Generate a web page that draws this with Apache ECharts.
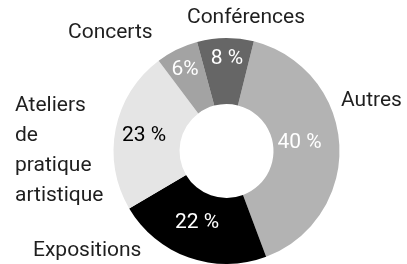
<!DOCTYPE html>
<html>
<head>
<meta charset="utf-8">
<script src="https://cdn.jsdelivr.net/npm/echarts@6/dist/echarts.min.js"></script>
<style>
html,body{margin:0;padding:0;background:#fff;}
#c{width:407px;height:264px;}
</style>
</head>
<body>
<div id="c"></div>
<script>
const categories = ['Autres', 'Expositions', 'Ateliers\nde\npratique\nartistique', 'Concerts', 'Conférences'];
const values = [40, 22, 23, 6, 8];
const percentLabels = ['40 %', '22 %', '23 %', '6%', '8 %'];

const sliceColors = ['#b3b3b3', '#000000', '#e5e5e5', '#a3a3a3', '#666666'];
const innerTextColors = ['#ffffff', '#ffffff', '#000000', '#ffffff', '#ffffff'];
// label layout (pixel positions)
const innerPos = [[299.5, 143], [197, 223], [144, 135.5], [185, 70], [227, 58.5]];
const outerPos = [[341, 100.5, 'left'], [33, 250.5, 'left'], [15, 150.5, 'left'], [68, 33, 'left'], [246, 18, 'center']];

const chart = echarts.init(document.getElementById('c'), null, {renderer: 'canvas'});
const FONT = 'Roboto';
const center = [226.5, 151];
const radius = [47, 113];

const innerData = values.map((v, i) => ({
  value: v, name: categories[i],
  itemStyle: {color: sliceColors[i]},
  label: {formatter: percentLabels[i], color: innerTextColors[i]}
}));
const outerData = values.map((v, i) => ({value: v, name: categories[i]}));

chart.setOption({
  animation: false,
  series: [
    {
      type: 'pie', center: center, radius: radius, startAngle: 76, clockwise: true,
      silent: true,
      itemStyle: {borderWidth: 0},
      label: {show: true, position: 'inside', fontFamily: FONT, fontSize: 21},
      labelLine: {show: false},
      labelLayout: function (p) {
        const q = innerPos[p.dataIndex];
        return {x: q[0], y: q[1], align: 'center', verticalAlign: 'middle'};
      },
      data: innerData
    },
    {
      type: 'pie', center: center, radius: radius, startAngle: 76, clockwise: true,
      silent: true,
      itemStyle: {color: 'rgba(0,0,0,0)', borderWidth: 0},
      label: {show: true, position: 'outside', fontFamily: FONT, fontSize: 21, color: '#1f1f1f', lineHeight: 30, formatter: '{b}', overflow: 'none', width: 200},
      labelLine: {show: false},
      labelLayout: function (p) {
        const q = outerPos[p.dataIndex];
        return {x: q[0], y: q[1], align: q[2], verticalAlign: 'middle'};
      },
      data: outerData
    }
  ]
});
</script>
</body>
</html>
